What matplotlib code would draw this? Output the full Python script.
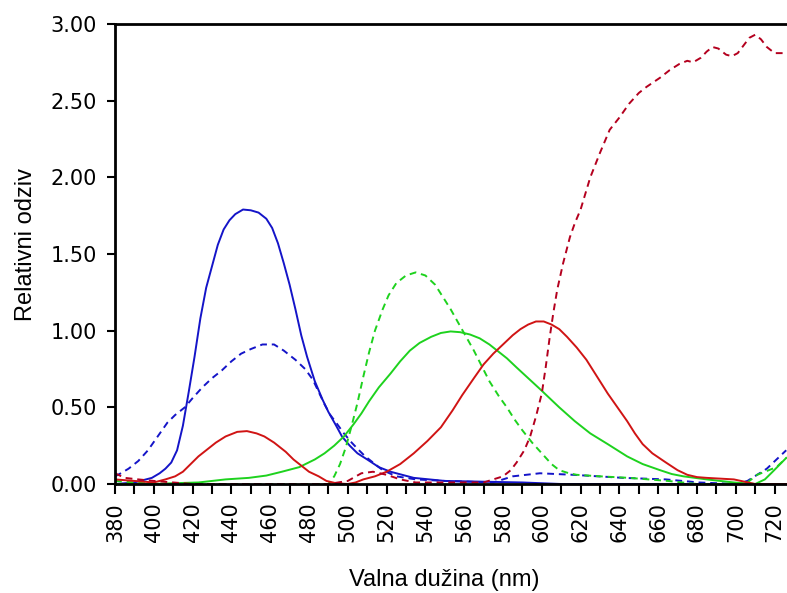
import matplotlib
matplotlib.use("Agg")
import matplotlib.pyplot as plt
from matplotlib.ticker import MultipleLocator

# plava puna
plava_x = [380, 390, 399, 403, 406, 409, 412, 415, 418, 421, 424, 427, 430, 433, 436, 439, 442, 446,
           450, 454, 458, 461, 464, 467, 470, 473, 476, 479, 483, 487, 490, 494, 497, 501, 505, 510,
           516, 522, 528, 534, 550, 570, 590, 610, 700, 726]
plava_y = [0.0, 0.01, 0.04, 0.07, 0.10, 0.14, 0.22, 0.38, 0.60, 0.83, 1.08, 1.28, 1.42, 1.56, 1.66, 1.72, 1.76, 1.79,
           1.785, 1.77, 1.73, 1.67, 1.57, 1.44, 1.30, 1.14, 0.97, 0.83, 0.67, 0.55, 0.47, 0.38, 0.31, 0.25, 0.20, 0.16,
           0.11, 0.08, 0.06, 0.04, 0.02, 0.015, 0.01, 0.0, 0.0, 0.0]

# plava isprekidana
plava2_x = [380, 383, 387, 392, 397, 402, 407, 411, 416, 420, 425, 430, 435, 440, 445, 450, 456, 462,
            467, 473, 478, 482, 485, 488, 491, 494, 498, 502, 505, 509, 513, 518, 525, 535, 550, 575,
            585, 599, 616, 642, 664, 681, 700, 706, 711, 716, 721, 726]
plava2_y = [0.05, 0.07, 0.10, 0.15, 0.22, 0.31, 0.40, 0.45, 0.50, 0.56, 0.63, 0.69, 0.74, 0.80, 0.85, 0.88, 0.91, 0.91,
            0.87, 0.81, 0.75, 0.68, 0.60, 0.52, 0.45, 0.40, 0.33, 0.27, 0.23, 0.18, 0.14, 0.09, 0.05, 0.03, 0.02, 0.01,
            0.05, 0.07, 0.06, 0.04, 0.03, 0.01, 0.0, 0.02, 0.06, 0.10, 0.16, 0.22]

# zelena puna
zelena_x = [380, 400, 410, 423, 430, 437, 449, 458, 466, 475, 483, 488, 493, 498, 503, 507, 511, 516,
            522, 527, 532, 537, 543, 548, 553, 558, 563, 568, 573, 577, 582, 587, 593, 599, 604, 609,
            617, 625, 634, 644, 652, 661, 667, 673, 685, 699, 710, 715, 719, 726]
zelena_y = [0.0, 0.0, 0.005, 0.01, 0.02, 0.03, 0.04, 0.055, 0.08, 0.11, 0.16, 0.20, 0.25, 0.31, 0.39, 0.46, 0.54, 0.63,
            0.72, 0.80, 0.87, 0.92, 0.96, 0.985, 0.995, 0.99, 0.975, 0.95, 0.91, 0.87, 0.82, 0.76, 0.69, 0.62, 0.56, 0.50,
            0.41, 0.33, 0.26, 0.18, 0.13, 0.09, 0.065, 0.05, 0.03, 0.01, 0.0, 0.03, 0.08, 0.17]

# zelena isprekidana
zelena2_x = [380, 400, 480, 490, 493, 496, 499, 502, 505, 508, 511, 514, 518, 521, 525, 530, 535, 540,
             545, 549, 553, 557, 561, 565, 569, 573, 578, 582, 586, 590, 595, 600, 605, 609, 614, 618,
             630, 645, 665, 680, 705, 711, 721, 726]
zelena2_y = [0.02, 0.0, 0.0, 0.0, 0.05, 0.13, 0.24, 0.38, 0.53, 0.70, 0.86, 1.00, 1.14, 1.23, 1.31, 1.36, 1.38, 1.36,
             1.30, 1.22, 1.14, 1.05, 0.96, 0.87, 0.77, 0.67, 0.57, 0.50, 0.42, 0.35, 0.27, 0.20, 0.13, 0.09, 0.07, 0.06,
             0.05, 0.04, 0.02, 0.0, 0.0, 0.06, 0.11, 0.17]

# crvena puna
crvena_x = [380, 390, 400, 406, 411, 415, 419, 423, 427, 432, 437, 443, 448, 453, 457, 462, 468, 472,
            476, 480, 485, 489, 494, 500, 504, 508, 514, 520, 527, 534, 541, 548, 554, 559, 565, 570,
            575, 580, 585, 589, 593, 597, 601, 605, 609, 613, 618, 623, 628, 634, 639, 644, 648, 652,
            657, 664, 670, 675, 680, 685, 699, 710, 726]
crvena_y = [0.03, 0.02, 0.01, 0.03, 0.05, 0.08, 0.13, 0.18, 0.22, 0.27, 0.31, 0.34, 0.345, 0.33, 0.31, 0.27, 0.21, 0.16,
            0.12, 0.08, 0.05, 0.02, 0.005, 0.0, 0.01, 0.03, 0.05, 0.08, 0.13, 0.20, 0.28, 0.37, 0.48, 0.58, 0.69, 0.78,
            0.85, 0.91, 0.97, 1.01, 1.04, 1.06, 1.06, 1.04, 1.01, 0.96, 0.89, 0.81, 0.71, 0.59, 0.50, 0.41, 0.33, 0.26,
            0.20, 0.14, 0.09, 0.06, 0.045, 0.04, 0.03, 0.0, 0.0]

# crvena isprekidana
crvena2_x = [380, 385, 392, 400, 410, 420, 490, 500, 507, 513, 520, 527, 535, 570, 580, 584, 587, 591,
             594, 597, 600, 602, 604, 606, 608, 611, 614.5, 617, 620, 625, 630, 635, 640, 645, 650,
             654, 661, 666, 671, 675, 678, 682, 685, 688, 691, 695, 698, 701, 704, 707, 710, 713,
             716, 720, 726]
crvena2_y = [0.07, 0.04, 0.03, 0.02, 0.01, 0.0, 0.0, 0.02, 0.07, 0.08, 0.06, 0.03, 0.01, 0.01, 0.05, 0.09, 0.14, 0.22,
             0.31, 0.44, 0.59, 0.76, 0.95, 1.12, 1.27, 1.44, 1.61, 1.70, 1.79, 2.00, 2.16, 2.31, 2.39, 2.48, 2.55,
             2.59, 2.65, 2.70, 2.74, 2.76, 2.75, 2.78, 2.82, 2.85, 2.84, 2.80, 2.79, 2.81, 2.86, 2.91, 2.93, 2.90,
             2.85, 2.81, 2.81]

plava = "#1414c8"
zelena = "#1ed21e"
crvena = "#d01414"
crvena_tamna = "#b4001e"

fig = plt.figure(figsize=(7.87, 5.93), dpi=100)
ax = fig.add_axes([115/787, 1 - 484/593, (787 - 115)/787, (484 - 24)/593])

crt = [(plava_x, plava_y, plava, "-"),
       (plava2_x, plava2_y, plava, "--"),
       (zelena_x, zelena_y, zelena, "-"),
       (zelena2_x, zelena2_y, zelena, "--"),
       (crvena_x, crvena_y, crvena, "-"),
       (crvena2_x, crvena2_y, crvena_tamna, "--")]
for x, y, boja, stil in crt:
    l, = ax.plot(x, y, color=boja, linestyle=stil, linewidth=1.4)
    if stil == "--":
        l.set_dashes((3.5, 2.5))

ax.set_xlim(380, 726.4)
ax.set_ylim(0, 3)
ax.xaxis.set_major_locator(MultipleLocator(20))
ax.xaxis.set_minor_locator(MultipleLocator(10))
ax.set_yticks([0, 0.5, 1, 1.5, 2, 2.5, 3])
ax.set_yticklabels(["0.00", "0.50", "1.00", "1.50", "2.00", "2.50", "3.00"])
ax.tick_params(axis="x", which="both", direction="out", length=7, width=1.5, labelsize=15,
               labelrotation=90, pad=6)
ax.tick_params(axis="y", direction="out", length=6, width=1.5, labelsize=15, pad=7)

ax.spines["right"].set_visible(False)
for s in ["left", "bottom", "top"]:
    ax.spines[s].set_linewidth(2)
    ax.spines[s].set_color("black")

ax.set_xlabel("Valna dužina (nm)", family="Liberation Sans", fontsize=17)
ax.set_ylabel("Relativni odziv", family="Liberation Sans", fontsize=17)
ax.xaxis.set_label_coords(0.49, -0.185)
ax.yaxis.set_label_coords(-0.116, 0.52)

fig.savefig("out.png", dpi=100)
